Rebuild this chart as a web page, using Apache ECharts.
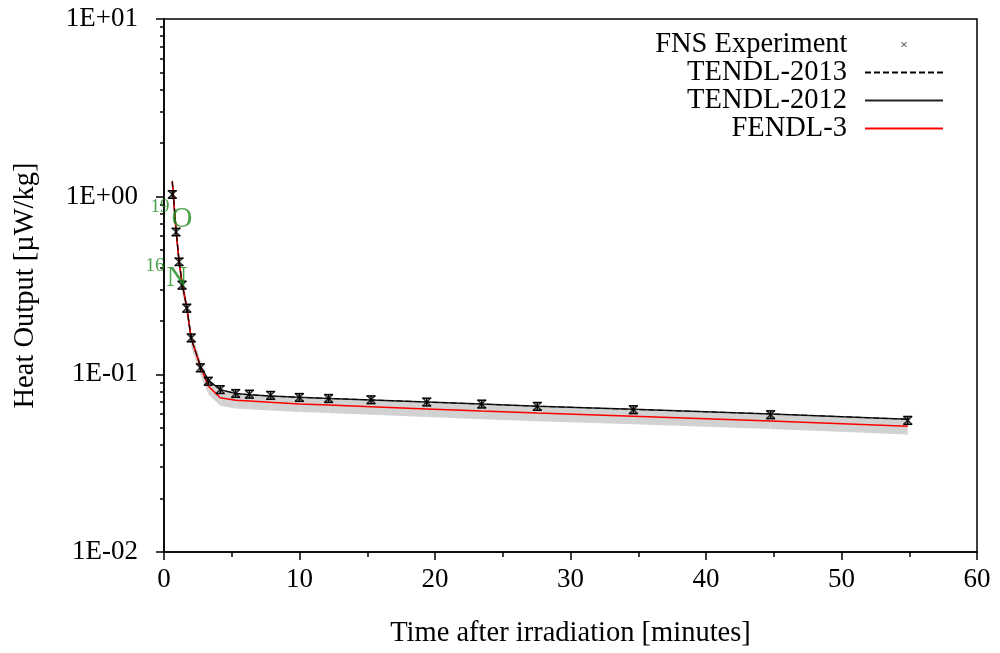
<!DOCTYPE html>
<html>
<head>
<meta charset="utf-8">
<script src="https://cdn.jsdelivr.net/npm/echarts@6/dist/echarts.min.js"></script>
<style>html,body{margin:0;padding:0;background:#fff}#c{width:1000px;height:653px}</style>
</head>
<body>
<div id="c"></div>
<script>
// ---- data ----
const times = [0.61, 0.89, 1.11, 1.33, 1.68, 2.01, 2.68, 3.27, 4.15, 5.29, 6.30, 7.87, 9.99, 12.15, 15.28, 19.39, 23.45, 27.55, 34.64, 44.77, 54.89];
const expValues = [1.03, 0.633, 0.430, 0.318, 0.236, 0.1605, 0.1089, 0.0915, 0.0821, 0.0781, 0.0774, 0.0762, 0.0742, 0.0732, 0.0720, 0.0699, 0.0681, 0.0661, 0.0633, 0.0593, 0.0551];
const expErrors = [0.05, 0.03, 0.02, 0.016, 0.012, 0.008, 0.0055, 0.0046, 0.0041, 0.0039, 0.0039, 0.0038, 0.0037, 0.0037, 0.0036, 0.0035, 0.0034, 0.0033, 0.0032, 0.0030, 0.0028];
const tendl2013 = [1.22, 0.647, 0.435, 0.3265, 0.2385, 0.1584, 0.1117, 0.0927, 0.0819, 0.0781, 0.0768, 0.0754, 0.0742, 0.0732, 0.0718, 0.0699, 0.0680, 0.0662, 0.0635, 0.0599, 0.0559];
const tendl2012 = [1.22, 0.647, 0.435, 0.3265, 0.2385, 0.1584, 0.1117, 0.0927, 0.0819, 0.0781, 0.0768, 0.0754, 0.0742, 0.0732, 0.0718, 0.0699, 0.0680, 0.0662, 0.0635, 0.0599, 0.0559];
const fendl3 = [1.22, 0.647, 0.435, 0.3265, 0.2385, 0.1584, 0.111, 0.0858, 0.0739, 0.0714, 0.0708, 0.0696, 0.0681, 0.0673, 0.0658, 0.0639, 0.0621, 0.0605, 0.0581, 0.0547, 0.0510];
const bandUpper = [1.33, 0.705, 0.474, 0.356, 0.260, 0.173, 0.121, 0.0935, 0.0806, 0.0778, 0.0772, 0.0759, 0.0742, 0.0734, 0.0717, 0.0697, 0.0677, 0.0659, 0.0633, 0.0596, 0.0556];
const bandLower = [1.10, 0.582, 0.392, 0.294, 0.215, 0.143, 0.100, 0.0772, 0.0665, 0.0643, 0.0637, 0.0626, 0.0613, 0.0606, 0.0592, 0.0575, 0.0559, 0.0545, 0.0523, 0.0492, 0.0459];
const yTickLabels = ['1E-02', '1E-01', '1E+00', '1E+01'];
const yMinorTicks = [0.02,0.03,0.04,0.05,0.06,0.07,0.08,0.09,0.2,0.3,0.4,0.5,0.6,0.7,0.8,0.9,2,3,4,5,6,7,8,9];
const seriesNames = ['FNS Experiment', 'TENDL-2013', 'TENDL-2012', 'FENDL-3'];
const isotopeMass = ['19', '16'];
const isotopeSymbol = ['O', 'N'];
const isotopeTime = [1.33, 0.96];
const isotopeValue = [0.747, 0.348];

// ---- chart ----
const FONT = 'Liberation Serif';
const chart = echarts.init(document.getElementById('c'), null, {renderer: 'canvas'});
const xSym = 'path://M0,0L10,10M10,0L0,10';
const xLegendSym = 'path://M0,0M78,14M36,4.5L41,9.5M41,4.5L36,9.5';

const lineData = arr => times.map((t, i) => [t, arr[i]]);

const legendTops = [30, 58, 86, 114];
const legends = seriesNames.map((name, i) => ({
  data: [i === 0 ? {name: name, icon: xLegendSym} : name],
  right: 56, top: legendTops[i], orient: 'vertical', align: 'right',
  itemWidth: 78, itemHeight: 14, padding: 0,
  selectedMode: false,
  itemStyle: i === 0 ? {color: 'transparent', borderColor: '#000', borderWidth: 1} : {opacity: 0},
  textStyle: {fontFamily: FONT, fontSize: 28.5, color: '#000', padding: [0, 13, 0, 0]}
}));

const option = {
  backgroundColor: '#fff',
  animation: false,
  legend: legends,
  grid: {left: 164, right: 23, top: 19, bottom: 99, show: true, borderColor: '#000', borderWidth: 1.5, backgroundColor: 'transparent'},
  xAxis: {
    type: 'value', min: 0, max: 60, interval: 10,
    name: 'Time after irradiation [minutes]', nameLocation: 'middle', nameGap: 67,
    nameTextStyle: {fontFamily: FONT, fontSize: 28.5, color: '#000'},
    axisLine: {lineStyle: {color: '#000', width: 1.5}},
    axisTick: {length: 8, lineStyle: {color: '#000', width: 1.5}},
    minorTick: {show: true, splitNumber: 2, length: 5, lineStyle: {color: '#000', width: 1.5}},
    splitLine: {show: false},
    axisLabel: {fontFamily: FONT, fontSize: 27, color: '#000', margin: 14}
  },
  yAxis: [{
    type: 'log', logBase: 10, min: 0.01, max: 10,
    name: 'Heat Output [\u00b5W/kg]', nameLocation: 'middle', nameGap: 124,
    nameTextStyle: {fontFamily: FONT, fontSize: 28.5, color: '#000'},
    axisLine: {lineStyle: {color: '#000', width: 1.5}},
    axisTick: {length: 8, lineStyle: {color: '#000', width: 1.5}},
    splitLine: {show: false},
    axisLabel: {fontFamily: FONT, fontSize: 27, color: '#000', margin: 26,
      formatter: v => yTickLabels[Math.round(Math.log10(v)) + 2]}
  }, {
    type: 'log', logBase: 10, min: 0.01, max: 10, position: 'left',
    axisLine: {show: false}, splitLine: {show: false},
    axisLabel: {show: false},
    axisTick: {show: true, length: 4, customValues: yMinorTicks, lineStyle: {color: '#000', width: 1.5}}
  }],
  series: [
    {
      name: 'band', type: 'custom', z: 1, silent: true,
      data: times.map((t, i) => [t, bandLower[i], bandUpper[i]]),
      encode: {x: 0, y: [1, 2]},
      renderItem: (params, api) => {
        const i = params.dataIndex;
        if (i >= times.length - 1) return null;
        const pts = [
          api.coord([times[i], bandUpper[i]]),
          api.coord([times[i + 1], bandUpper[i + 1]]),
          api.coord([times[i + 1], bandLower[i + 1]]),
          api.coord([times[i], bandLower[i]])
        ];
        return {type: 'polygon', shape: {points: pts}, style: {fill: '#d2d2d2', stroke: null}};
      }
    },
    {
      name: 'TENDL-2012', type: 'line', z: 3, data: lineData(tendl2012), symbol: 'none',
      itemStyle: {color: '#222'},
      lineStyle: {color: '#222', width: 1.5}
    },
    {
      name: 'TENDL-2013', type: 'line', z: 4, data: lineData(tendl2013), symbol: 'none',
      itemStyle: {color: '#000'},
      lineStyle: {color: '#000', width: 1, type: [6, 3]}
    },
    {
      name: 'FENDL-3', type: 'line', z: 3, data: lineData(fendl3), symbol: 'none',
      itemStyle: {color: '#ff0000'},
      lineStyle: {color: '#ff0000', width: 1.5}
    },
    {
      name: 'errors', type: 'custom', z: 5, silent: true,
      data: times.map((t, i) => [t, expValues[i] - expErrors[i], expValues[i] + expErrors[i]]),
      encode: {x: 0, y: [1, 2]},
      renderItem: (params, api) => {
        const x = api.value(0);
        const p1 = api.coord([x, api.value(1)]);
        const p2 = api.coord([x, api.value(2)]);
        const w = 4.5;
        const st = {stroke: '#000', lineWidth: 1.5};
        return {type: 'group', children: [
          {type: 'line', shape: {x1: p1[0], y1: p1[1], x2: p2[0], y2: p2[1]}, style: st},
          {type: 'line', shape: {x1: p1[0] - w, y1: p1[1], x2: p1[0] + w, y2: p1[1]}, style: st},
          {type: 'line', shape: {x1: p2[0] - w, y1: p2[1], x2: p2[0] + w, y2: p2[1]}, style: st}
        ]};
      }
    },
    {
      name: 'FNS Experiment', type: 'scatter', z: 6, data: lineData(expValues),
      symbol: xSym, symbolSize: 8,
      itemStyle: {color: 'transparent', borderColor: '#000', borderWidth: 1.6}
    },
    {
      name: 'isotopes', type: 'scatter', z: 7, silent: true, clip: false,
      symbolSize: 0,
      data: isotopeSymbol.flatMap((s, i) => [
        {value: [isotopeTime[i], isotopeValue[i]],
         label: {show: true, position: 'inside', formatter: s, fontFamily: FONT, fontSize: 29, color: '#1f8a1f'}},
        {value: [isotopeTime[i], isotopeValue[i]],
         label: {show: true, position: 'inside', formatter: isotopeMass[i], offset: [-22, -12], fontFamily: FONT, fontSize: 19, color: '#1f8a1f'}}
      ])
    }
  ]
};
chart.setOption(option);
</script>
</body>
</html>
